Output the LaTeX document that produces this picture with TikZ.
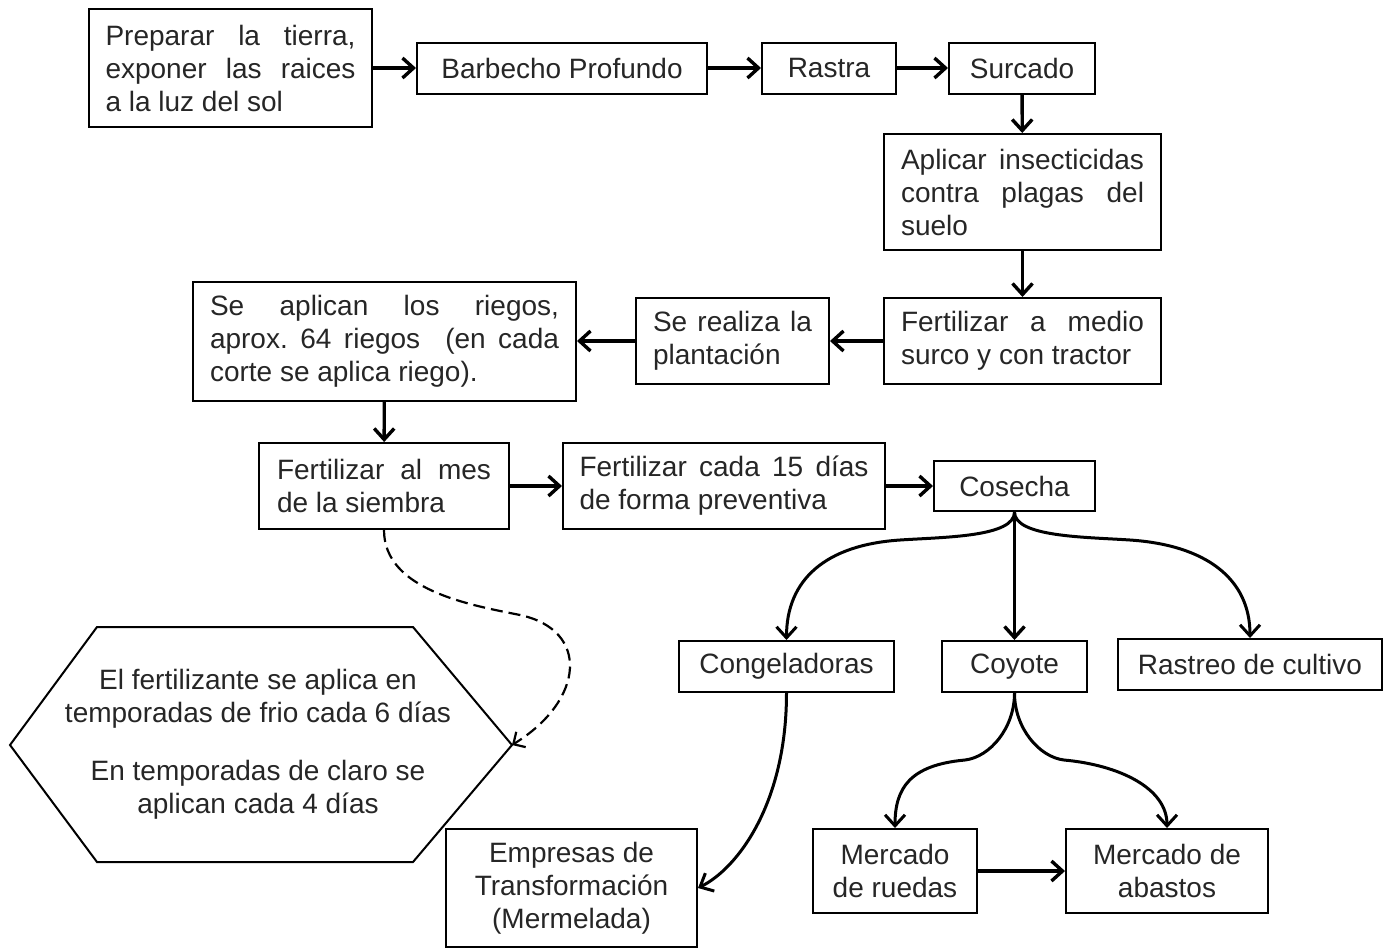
\documentclass[tikz,border=0pt]{standalone}
\usepackage{fontspec}
\setmainfont{Liberation Sans}
\usetikzlibrary{arrows.meta}
\newcommand{\jline}[2]{\makebox[#1][s]{#2}}
\newcommand{\fsmain}{\fontsize{14pt}{16.5pt}\selectfont}
\newcommand{\fshex}{\fontsize{14pt}{16.5pt}\selectfont}
\tikzset{
  box/.style={draw, line width=1pt, inner sep=0pt, font=\fsmain, text=black!85},
  arr/.style={line width=1.7pt, -{Straight Barb[length=5.5pt,width=10pt]}},
  carr/.style={line width=1.5pt, -{Straight Barb[length=5.5pt,width=10pt]}},
  darr/.style={line width=1.1pt, dash pattern=on 6pt off 3pt, -{Straight Barb[length=4.5pt,width=9pt]}},
}
\begin{document}
\frenchspacing
\begin{tikzpicture}[x=0.5pt,y=-0.5pt]
\fill[white] (0,0) rectangle (1392,949);
\useasboundingbox (0,0) rectangle (1392,949);

% top row
\node[box, minimum width=141.5pt, minimum height=59pt, align=left] (prep) at (230.5,68)
  {\jline{125pt}{Preparar la tierra,}\\\jline{125pt}{exponer las raices}\\a la luz del sol};
\node[box, minimum width=145pt, minimum height=25.5pt] (barb) at (562,68) {Barbecho Profundo};
\node[box, minimum width=67pt, minimum height=25.5pt] (rastra) at (829,68) {Rastra};
\node[box, minimum width=73pt, minimum height=25.5pt] (surcado) at (1022,68) {Surcado};

% right column
\node[box, minimum width=138.5pt, minimum height=58pt, align=left] (insect) at (1022.5,192)
  {\jline{121.5pt}{Aplicar insecticidas}\\\jline{121.5pt}{contra plagas del}\\suelo};
\node[box, minimum width=138.5pt, minimum height=43pt, align=left] (fertmed) at (1022.5,341)
  {\jline{121.5pt}{Fertilizar a medio}\\surco y con tractor};
\node[box, minimum width=96.5pt, minimum height=43pt, align=left] (plant) at (732.5,341)
  {\jline{79.5pt}{Se realiza la}\\plantación};
\node[box, minimum width=191.5pt, minimum height=59.5pt, align=left] (riegos) at (384.5,341)
  {\jline{174.5pt}{Se aplican los riegos,}\\\jline{174.5pt}{aprox. 64 riegos \ (en cada}\\corte se aplica riego).};

% fertilizer row
\node[box, minimum width=125pt, minimum height=43pt, align=left] (fertmes) at (384,486)
  {\jline{107pt}{Fertilizar al mes}\\de la siembra};
\node[box, minimum width=161pt, minimum height=43pt, align=left] (fert15) at (724,486)
  {\jline{144.5pt}{Fertilizar cada 15 días}\\de forma preventiva};
\node[box, minimum width=80.5pt, minimum height=25pt] (cosecha) at (1014.5,486) {Cosecha};

% destinations
\node[box, minimum width=107.5pt, minimum height=25.5pt] (congel) at (786.5,666.5) {Congeladoras};
\node[box, minimum width=72.5pt, minimum height=25.5pt] (coyote) at (1014.5,666.5) {Coyote};
\node[box, minimum width=132pt, minimum height=25.5pt] (rastreo) at (1250,664.5) {Rastreo de cultivo};
\node[box, minimum width=125.5pt, minimum height=59pt, align=center] (empresas) at (571.5,888)
  {Empresas de\\Transformación\\(Mermelada)};
\node[box, minimum width=82pt, minimum height=42pt, align=center] (mercr) at (895,871)
  {Mercado\\de ruedas};
\node[box, minimum width=101pt, minimum height=42pt, align=center] (merca) at (1167,871)
  {Mercado de\\abastos};

% hexagon
\draw[line width=1pt] (10,745) -- (97,627) -- (413,627) -- (512,745) -- (413,862) -- (97,862) -- cycle;
\coordinate (hexR) at (512,745);
\node[font=\fshex, text=black!85, align=center, inner sep=0pt] (hex) at (258,744)
  {El fertilizante se aplica en\\temporadas de frio cada 6 días\\[12.5pt]En temporadas de claro se\\aplican cada 4 días};

% straight arrows
\draw[arr] (prep) -- (barb);
\draw[arr] (barb) -- (rastra);
\draw[arr] (rastra) -- (surcado);
\draw[arr] (surcado) -- (insect);
\draw[arr] (insect) -- (fertmed);
\draw[arr] (fertmed) -- (plant);
\draw[arr] (plant) -- (riegos);
\draw[arr] (riegos) -- (fertmes);
\draw[arr] (fertmes) -- (fert15);
\draw[arr] (fert15) -- (cosecha);
\draw[arr] (cosecha) -- (coyote);
\draw[arr] (mercr) -- (merca);

% curved arrows
\draw[carr] (cosecha.south) .. controls +(0,25) and +(45,-3) .. (900,540)
  .. controls +(-75,5) and +(0,-60) .. (congel.north);
\draw[carr] (cosecha.south) .. controls +(0,25) and +(-45,-3) .. (1130,540)
  .. controls +(75,5) and +(0,-60) .. (rastreo.north);
\draw[carr] (coyote.south) .. controls +(0,35) and +(25,-3) .. (965,760)
  .. controls +(-55,5) and +(0,-40) .. (mercr.north);
\draw[carr] (coyote.south) .. controls +(0,35) and +(-25,-3) .. (1064,760)
  .. controls +(55,5) and +(0,-40) .. (merca.north);
\draw[carr] (congel.south) .. controls +(0,110) and +(40,-20) .. (empresas.east);

% dashed arrow
\draw[darr] (fertmes.south) .. controls +(0,60) and +(-50,-10) .. (520,615)
  .. controls +(70,15) and +(73,-45) .. (hexR);
\end{tikzpicture}
\end{document}
